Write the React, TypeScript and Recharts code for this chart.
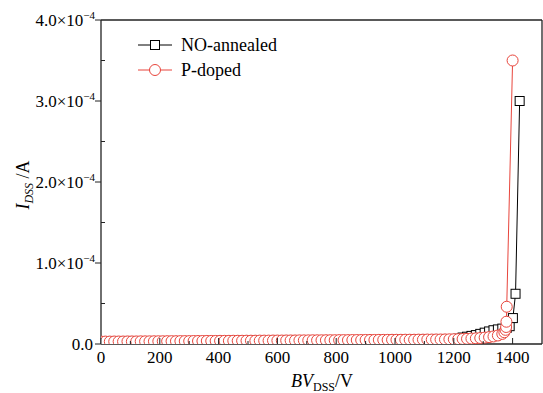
import React from 'react';
import { LineChart, Line, XAxis, YAxis, ReferenceLine } from 'recharts';

// Breakdown voltage (V) and leakage current (in 1e-6 A units)
const pDopedV = [0, 15, 30, 45, 60, 75, 90, 105, 120, 135, 150, 165, 180, 195, 210, 225, 240, 255, 270, 285, 300, 315, 330, 345, 360, 375, 390, 405, 420, 435, 450, 465, 480, 495, 510, 525, 540, 555, 570, 585, 600, 615, 630, 645, 660, 675, 690, 705, 720, 735, 750, 765, 780, 795, 810, 825, 840, 855, 870, 885, 900, 915, 930, 945, 960, 975, 990, 1005, 1020, 1035, 1050, 1065, 1080, 1095, 1110, 1125, 1140, 1155, 1170, 1185, 1200, 1215, 1230, 1245, 1260, 1275, 1290, 1305, 1320, 1335, 1350, 1365, 1372, 1376, 1378, 1379, 1380, 1400];
const pDopedI = [3.0, 3.0, 3.0, 3.1, 3.1, 3.1, 3.2, 3.2, 3.2, 3.3, 3.3, 3.3, 3.4, 3.4, 3.4, 3.5, 3.5, 3.5, 3.6, 3.6, 3.6, 3.7, 3.7, 3.7, 3.8, 3.8, 3.8, 3.9, 3.9, 3.9, 4.0, 4.0, 4.0, 4.1, 4.1, 4.1, 4.2, 4.2, 4.2, 4.3, 4.3, 4.3, 4.4, 4.4, 4.4, 4.5, 4.5, 4.5, 4.6, 4.6, 4.6, 4.7, 4.7, 4.7, 4.8, 4.8, 4.8, 4.9, 4.9, 4.9, 5.0, 5.0, 5.0, 5.1, 5.1, 5.1, 5.2, 5.2, 5.2, 5.3, 5.3, 5.3, 5.4, 5.4, 5.5, 5.5, 5.6, 5.6, 5.7, 5.8, 5.9, 6.0, 6.2, 6.4, 6.7, 7.0, 7.4, 7.9, 8.5, 9.3, 10.5, 12.5, 14.5, 17.5, 21, 27.5, 46, 350];

const noAnnV = [0, 30, 60, 90, 120, 150, 180, 210, 240, 270, 300, 330, 360, 390, 420, 450, 480, 510, 540, 570, 600, 630, 660, 690, 720, 750, 780, 810, 840, 870, 900, 930, 960, 990, 1020, 1050, 1080, 1110, 1140, 1170, 1200, 1215, 1230, 1245, 1260, 1275, 1290, 1305, 1320, 1335, 1350, 1365, 1380, 1390, 1401, 1410, 1424];
const noAnnI = [3.0, 3.0, 3.1, 3.2, 3.2, 3.3, 3.4, 3.4, 3.5, 3.6, 3.6, 3.7, 3.8, 3.8, 3.9, 4.0, 4.0, 4.1, 4.2, 4.2, 4.3, 4.4, 4.4, 4.5, 4.6, 4.6, 4.7, 4.8, 4.8, 4.9, 5.0, 5.0, 5.1, 5.2, 5.2, 5.3, 5.4, 5.5, 5.6, 5.7, 5.9, 6.5, 8.0, 9.0, 10.0, 11.0, 12.5, 14.0, 15.5, 17.0, 18.0, 19.0, 20.0, 22.0, 32.0, 62.0, 300];

const xTicks = [0, 100, 200, 300, 400, 500, 600, 700, 800, 900, 1000, 1100, 1200, 1300, 1400, 1500];
const yTicks = [0, 50, 100, 150, 200, 250, 300, 350, 400];
const yTickLabels: Record<number, string> = { 0: '0.0', 100: '1.0', 200: '2.0', 300: '3.0', 400: '4.0' };

const pDopedData = pDopedV.map((v, k) => ({ v, i: pDopedI[k] }));
const noAnnData = noAnnV.map((v, k) => ({ v, i: noAnnI[k] }));

const FONT = 'Liberation Serif, Times New Roman, serif';
const txtStyle = { fontFamily: FONT };
const RED = '#e8453c';

const XTick = (props: any) => {
  const { x, y, payload } = props;
  const val = payload.value;
  const major = val % 200 === 0;
  if (val === 1500) return <g />;
  return (
    <g>
      <line x1={x} y1={y} x2={x} y2={y - (major ? 6 : 3)} stroke="#222" strokeWidth={1} />
      {major && (
        <text x={x} y={y + 19} textAnchor="middle" fontSize={17} style={txtStyle} fill="#000">
          {val}
        </text>
      )}
    </g>
  );
};

const YTick = (props: any) => {
  const { x, y, payload } = props;
  const val = payload.value;
  const major = val % 100 === 0;
  if (!major) {
    return <line x1={x} y1={y} x2={x + 4} y2={y} stroke="#222" strokeWidth={1} />;
  }
  return (
    <g>
      <line x1={x} y1={y} x2={x - 6} y2={y} stroke="#222" strokeWidth={1} />
      <text x={x - 6} y={y + 6} textAnchor="end" fontSize={17} style={txtStyle} fill="#000">
        {val === 0 ? (
          <tspan dx={-2}>0.0</tspan>
        ) : (
          <>
            <tspan>{yTickLabels[val]}×10</tspan>
            <tspan fontSize={11} dy={-7}>−4</tspan>
          </>
        )}
      </text>
    </g>
  );
};

const SquareDot = (props: any) => {
  const { cx, cy, index } = props;
  if (cx == null || cy == null) return <g key={`s${index}`} />;
  return (
    <rect key={`s${index}`} x={cx - 4.5} y={cy - 4.5} width={9} height={9} fill="#fff" stroke="#000" strokeWidth={1} />
  );
};

export default function App() {
  return (
    <div style={{ position: 'absolute', left: 0, top: 0, width: 543, height: 393, background: '#fff', fontFamily: FONT }}>
      <LineChart width={543} height={393} margin={{ top: 20, right: 1, left: 0, bottom: 0 }} style={{ fontFamily: FONT }}>
        <XAxis
          type="number"
          dataKey="v"
          domain={[0, 1500]}
          ticks={xTicks}
          interval={0}
          height={49}
          tickSize={0}
          tickMargin={0}
          tickLine={false}
          tick={<XTick />}
          axisLine={{ stroke: '#222', strokeWidth: 1.3 }}
          allowDataOverflow
        />
        <YAxis
          type="number"
          dataKey="i"
          domain={[0, 400]}
          ticks={yTicks}
          interval={0}
          width={101}
          tickSize={0}
          tickMargin={0}
          tickLine={false}
          tick={<YTick />}
          axisLine={{ stroke: '#222', strokeWidth: 1.3 }}
          allowDataOverflow
        />
        <ReferenceLine y={400} stroke="#222" strokeWidth={1.3} />
        <ReferenceLine x={1500} stroke="#222" strokeWidth={1.3} />
        <Line
          data={noAnnData}
          dataKey="i"
          type="linear"
          stroke="#000"
          strokeWidth={1}
          dot={<SquareDot />}
          isAnimationActive={false}
        />
        <Line
          data={pDopedData}
          dataKey="i"
          type="linear"
          stroke={RED}
          strokeWidth={1}
          dot={{ r: 5.5, fill: '#fff', stroke: RED, strokeWidth: 1 }}
          isAnimationActive={false}
        />
      </LineChart>
      <svg width={543} height={393} style={{ position: 'absolute', left: 0, top: 0, pointerEvents: 'none', fontFamily: FONT }}>
        <g>
          <line x1={138} y1={45} x2={172} y2={45} stroke="#000" strokeWidth={1} />
          <rect x={150.5} y={40.5} width={9} height={9} fill="#fff" stroke="#000" strokeWidth={1} />
          <text x={181} y={51} fontSize={18} style={txtStyle} fill="#000">NO-annealed</text>
          <line x1={138} y1={70} x2={172} y2={70} stroke={RED} strokeWidth={1} />
          <circle cx={155} cy={70} r={5.5} fill="#fff" stroke={RED} strokeWidth={1} />
          <text x={181} y={76} fontSize={18} style={txtStyle} fill="#000">P-doped</text>
        </g>
        <text transform="translate(29,185) rotate(-90)" textAnchor="middle" fontSize={18} style={txtStyle} fill="#000">
          <tspan fontStyle="italic">I</tspan>
          <tspan fontStyle="italic" fontSize={12} dy={4}>DSS</tspan>
          <tspan dy={-4}> /A</tspan>
        </text>
        <text x={322} y={387} textAnchor="middle" fontSize={18} style={txtStyle} fill="#000">
          <tspan fontStyle="italic">BV</tspan>
          <tspan fontSize={12} dy={4}>DSS</tspan>
          <tspan dy={-4}>/V</tspan>
        </text>
      </svg>
    </div>
  );
}
